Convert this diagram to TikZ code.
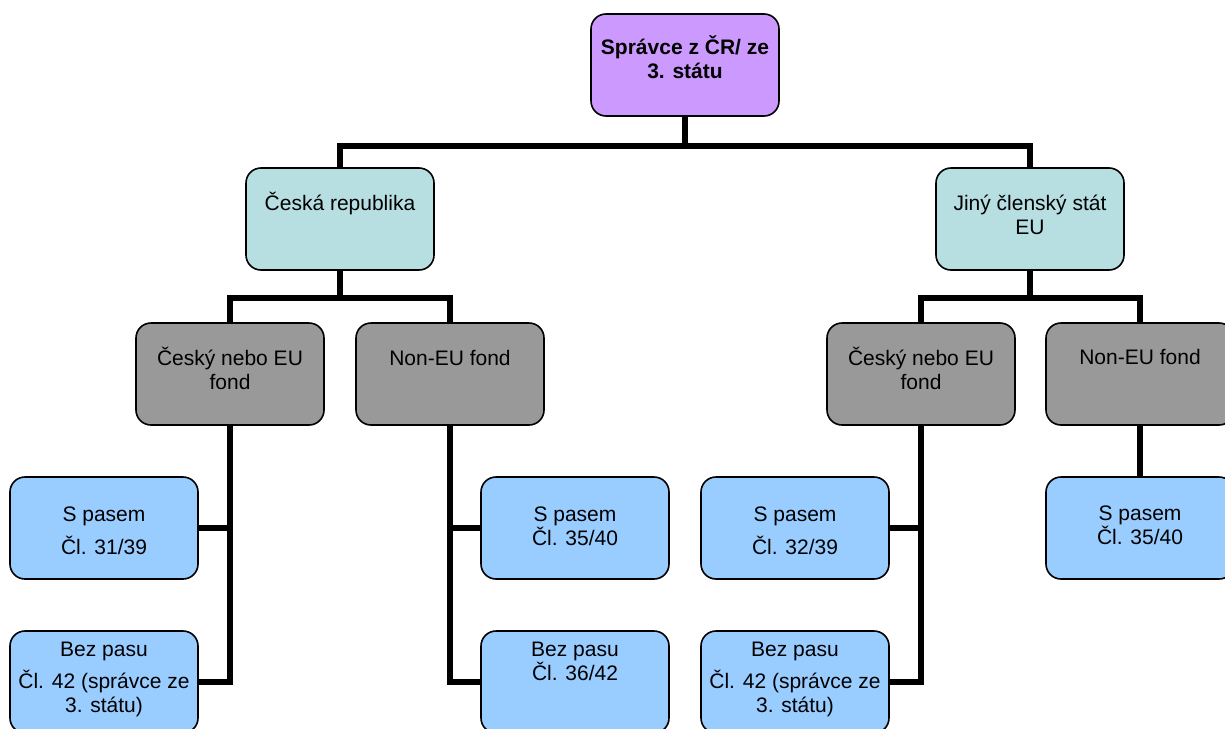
\documentclass[tikz,border=0pt]{standalone}
\usepackage{fontspec}
\setmainfont{Liberation Sans}
\usetikzlibrary{backgrounds}
\definecolor{cpurple}{HTML}{CC99FF}
\definecolor{cteal}{HTML}{B7DFE2}
\definecolor{cgray}{HTML}{999999}
\definecolor{cblue}{HTML}{99CCFF}
\newcommand\tlines[1]{\vtop{\lineskiplimit=-100pt\lineskip=0pt\baselineskip=24pt\halign{\hfil##\hfil\cr#1\crcr}}}
\newcommand\gap[1]{\noalign{\vskip#1}}
\tikzset{
  box/.style={draw=black, line width=1.6pt, rounded corners=15pt,
    minimum width=188pt, minimum height=102pt, inner sep=0pt},
  txt/.style={anchor=base, inner sep=0pt, font=\fontsize{21}{24}\selectfont},
  conn/.style={line width=5.5pt, draw=black},
}
\begin{document}
\begin{tikzpicture}[x=1pt,y=-1pt]
\useasboundingbox (0,0) rectangle (1225,728);
% boxes
\node[box, fill=cpurple] (top) at (685,65) {};
\node[box, fill=cteal] (cr) at (340,219) {};
\node[box, fill=cteal] (eu) at (1030,219) {};
\node[box, fill=cgray] (g1) at (230,374) {};
\node[box, fill=cgray] (g2) at (450,374) {};
\node[box, fill=cgray] (g3) at (921,374) {};
\node[box, fill=cgray] (g4) at (1140,374) {};
\node[box, fill=cblue] (b1) at (104,528) {};
\node[box, fill=cblue] (b2) at (104,682) {};
\node[box, fill=cblue] (b3) at (575,528) {};
\node[box, fill=cblue] (b4) at (575,682) {};
\node[box, fill=cblue] (b5) at (795,528) {};
\node[box, fill=cblue] (b6) at (795,682) {};
\node[box, fill=cblue] (b7) at (1140,528) {};
% texts (placed at the baseline of the first line)
\node[txt, font=\fontsize{21}{24}\selectfont\bfseries] (topt) at (685,54) {\tlines{Správce z ČR/ ze\cr 3. státu}};
\node[txt] (crt) at (340,210.5) {\tlines{Česká republika}};
\node[txt] (eut) at (1030,210.5) {\tlines{Jiný členský stát\cr EU}};
\node[txt] (g1t) at (230,365) {\tlines{Český nebo EU\cr fond}};
\node[txt] (g2t) at (450,365) {\tlines{Non-EU fond}};
\node[txt] (g3t) at (921,365) {\tlines{Český nebo EU\cr fond}};
\node[txt] (g4t) at (1140,364) {\tlines{Non-EU fond}};
\node[txt] (b1t) at (104,521.5) {\tlines{S pasem\cr\gap{8.5pt} Čl. 31/39}};
\node[txt] (b2t) at (104,656) {\tlines{Bez pasu\cr\gap{8pt} Čl. 42 (správce ze\cr 3. státu)}};
\node[txt] (b3t) at (575,521.5) {\tlines{S pasem\cr Čl. 35/40}};
\node[txt] (b4t) at (575,656.5) {\tlines{Bez pasu\cr Čl. 36/42}};
\node[txt] (b5t) at (795,521.5) {\tlines{S pasem\cr\gap{8.5pt} Čl. 32/39}};
\node[txt] (b6t) at (795,656) {\tlines{Bez pasu\cr\gap{8pt} Čl. 42 (správce ze\cr 3. státu)}};
\node[txt] (b7t) at (1140,520.5) {\tlines{S pasem\cr Čl. 35/40}};
% connectors
\begin{scope}[on background layer]
\draw[conn] (top.south) -- ++(0,29) -| (cr.north);
\draw[conn] (top.south) -- ++(0,29) -| (eu.north);
\draw[conn] (cr.south) -- ++(0,27) -| (g1.north);
\draw[conn] (cr.south) -- ++(0,27) -| (g2.north);
\draw[conn] (eu.south) -- ++(0,27) -| (g3.north);
\draw[conn] (eu.south) -- ++(0,27) -| (g4.north);
\draw[conn] (g1.south) |- (b1.east);
\draw[conn] (g1.south) |- (b2.east);
\draw[conn] (g2.south) |- (b3.west);
\draw[conn] (g2.south) |- (b4.west);
\draw[conn] (g3.south) |- (b5.east);
\draw[conn] (g3.south) |- (b6.east);
\draw[conn] (g4.south) -- (b7.north);
\end{scope}
\end{tikzpicture}
\end{document}
